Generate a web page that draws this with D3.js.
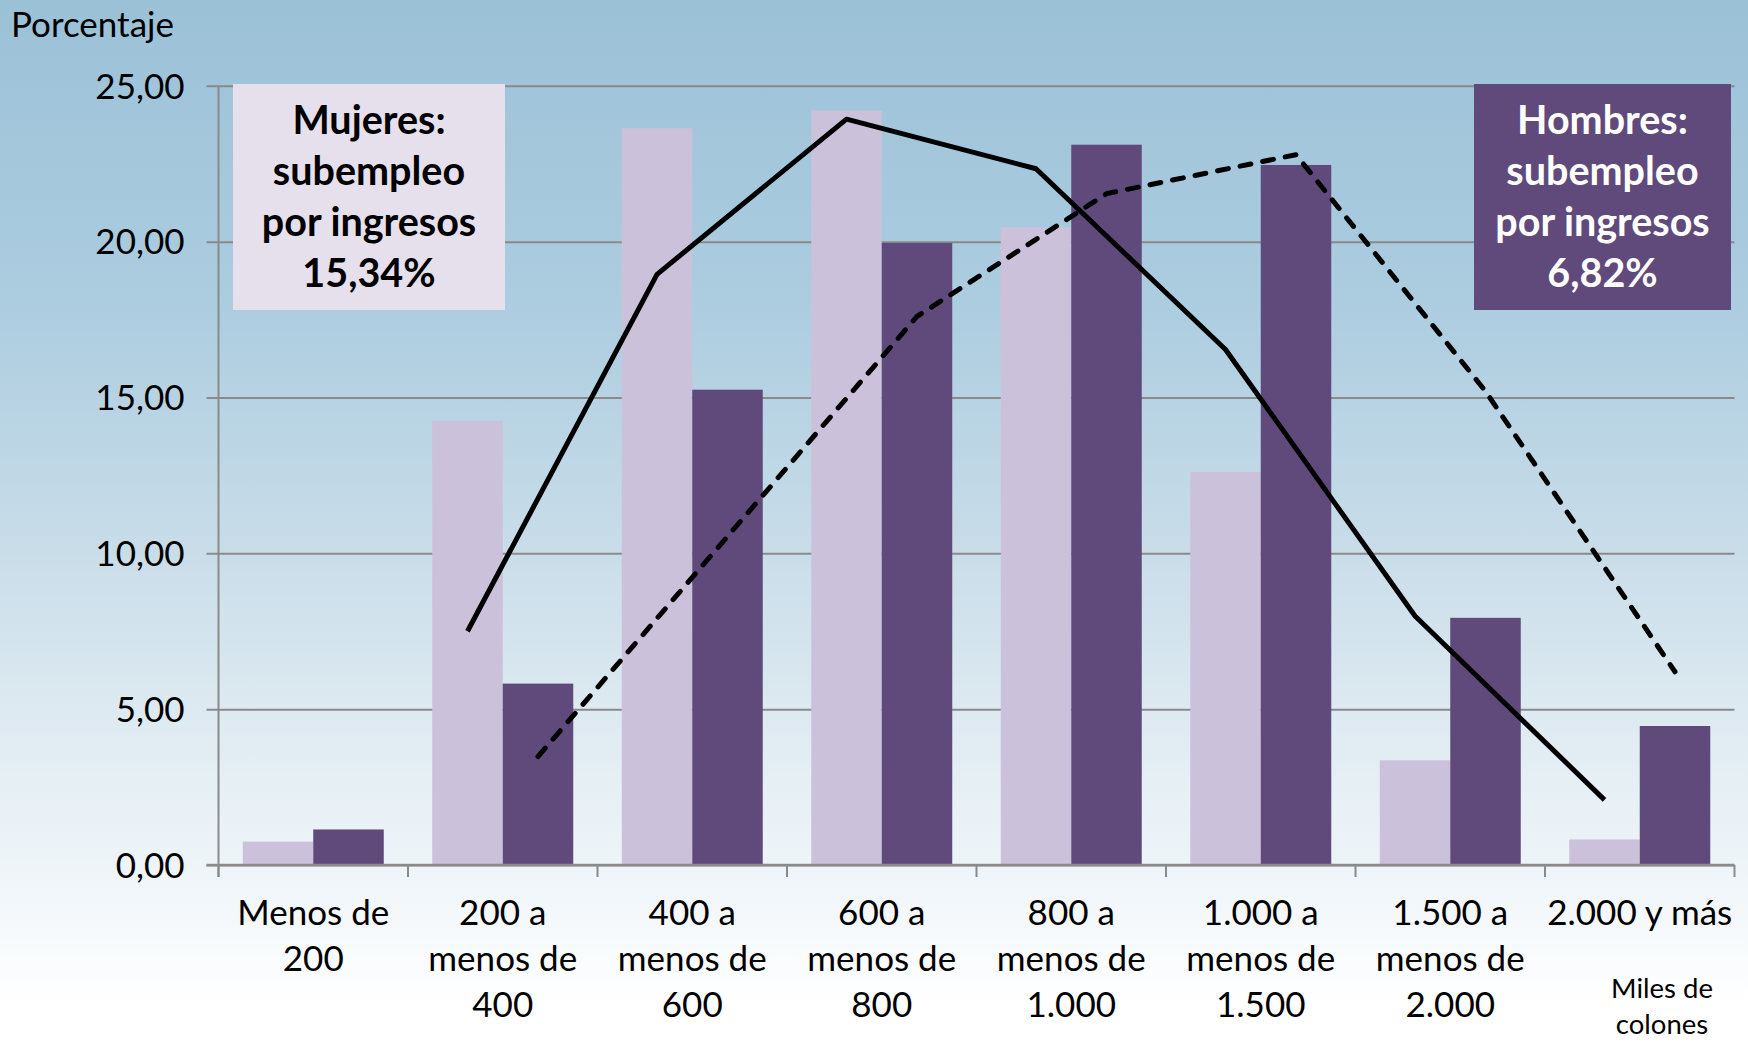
<!DOCTYPE html>
<html>
<head>
<meta charset="utf-8">
<script src="https://cdn.jsdelivr.net/npm/d3@7"></script>
<style>
  html, body { margin: 0; padding: 0; background: #fff; }
  svg { display: block; }
  text { font-family: Lato, "Noto Sans", sans-serif; }
</style>
</head>
<body>
<svg id="chart" width="1748" height="1044"></svg>
<script>
// Categorías de ingreso (miles de colones)
const categories = [
  ["Menos de", "200"],
  ["200 a", "menos de", "400"],
  ["400 a", "menos de", "600"],
  ["600 a", "menos de", "800"],
  ["800 a", "menos de", "1.000"],
  ["1.000 a", "menos de", "1.500"],
  ["1.500 a", "menos de", "2.000"],
  ["2.000 y más"]
];

// Porcentaje de subempleados por ingresos, por sexo
const mujeres = [0.75, 14.25, 23.64, 24.21, 20.46, 12.61, 3.36, 0.82];
const hombres = [1.14, 5.82, 15.25, 19.96, 23.11, 22.46, 7.93, 4.46];

// Medias móviles (2 períodos), desde la segunda categoría
const tendenciaMujeres = [7.50, 18.95, 23.93, 22.34, 16.54, 7.99, 2.09];
const tendenciaHombres = [3.48, 10.54, 17.60, 21.54, 22.79, 15.20, 6.20];

const yTicks = [0, 5, 10, 15, 20, 25];
const yTickLabels = ["0,00", "5,00", "10,00", "15,00", "20,00", "25,00"];

const tasaMujeres = ["Mujeres:", "subempleo", "por ingresos", "15,34%"];
const tasaHombres = ["Hombres:", "subempleo", "por ingresos", "6,82%"];

const W = 1748, H = 1044;
const plot = { left: 218.5, right: 1734.5, top: 85.8, bottom: 865 };

const svg = d3.select("#chart");

// Fondo degradado
const defs = svg.append("defs");
const grad = defs.append("linearGradient")
  .attr("id", "bg").attr("x1", 0).attr("y1", 0).attr("x2", 0).attr("y2", 1);
[[0, "#9bc1d7"], [0.3, "#adcde0"], [0.53, "#c9dde9"], [0.72, "#e2edf3"],
 [0.84, "#eff5f9"], [0.96, "#ffffff"], [1, "#ffffff"]]
  .forEach(([o, c]) => grad.append("stop").attr("offset", o).attr("stop-color", c));
svg.append("rect").attr("width", W).attr("height", H).attr("fill", "url(#bg)");

const idx = d3.range(categories.length);
const x0 = d3.scaleBand().domain(idx).range([plot.left, plot.right]).padding(0);
const x1 = d3.scaleBand().domain(["M", "H"]).range([0, x0.bandwidth()])
  .paddingInner(0).paddingOuter(0.344);
const y = d3.scaleLinear().domain([0, 25]).range([plot.bottom, plot.top]);

const gridColor = "#8a8a8a";

// Líneas de cuadrícula horizontales
const yAxis = d3.axisLeft(y).tickValues(yTicks)
  .tickSize(-(plot.right - plot.left))
  .tickFormat((d, i) => yTickLabels[i]);
const gy = svg.append("g").attr("transform", `translate(${plot.left},0)`).call(yAxis);
gy.select(".domain").remove();
gy.selectAll(".tick line").attr("stroke", gridColor).attr("stroke-width", 2)
  .attr("x1", -12);
gy.selectAll(".tick text").attr("x", -34).attr("dy", "0.35em")
  .attr("font-size", 35).attr("fill", "#000");

// Barras
const groups = svg.append("g").selectAll("g").data(idx).join("g")
  .attr("transform", i => `translate(${x0(i)},0)`);
groups.append("rect")
  .attr("x", x1("M")).attr("width", x1.bandwidth())
  .attr("y", i => y(mujeres[i])).attr("height", i => y(0) - y(mujeres[i]))
  .attr("fill", "#ccc1da");
groups.append("rect")
  .attr("x", x1("H")).attr("width", x1.bandwidth())
  .attr("y", i => y(hombres[i])).attr("height", i => y(0) - y(hombres[i]))
  .attr("fill", "#604a7b");

// Ejes
svg.append("line").attr("x1", plot.left).attr("x2", plot.left)
  .attr("y1", plot.top).attr("y2", plot.bottom + 12)
  .attr("stroke", gridColor).attr("stroke-width", 2);
svg.append("line").attr("x1", plot.left - 12).attr("x2", plot.right)
  .attr("y1", plot.bottom).attr("y2", plot.bottom)
  .attr("stroke", gridColor).attr("stroke-width", 2.5);
const bounds = d3.range(categories.length + 1).map(i => plot.left + i * x0.step());
svg.append("g").selectAll("line").data(bounds).join("line")
  .attr("x1", d => d).attr("x2", d => d)
  .attr("y1", plot.bottom).attr("y2", plot.bottom + 12)
  .attr("stroke", gridColor).attr("stroke-width", 2);

// Etiquetas de categorías
const lab = svg.append("g").selectAll("text").data(idx).join("text")
  .attr("text-anchor", "middle").attr("font-size", 35).attr("fill", "#000")
  .attr("x", i => x0(i) + x0.bandwidth() / 2);
lab.selectAll("tspan").data(i => categories[i]).join("tspan")
  .attr("x", function () { return d3.select(this.parentNode).attr("x"); })
  .attr("y", (d, j) => 925 + j * 46)
  .text(d => d);

svg.append("text").attr("x", 1662).attr("text-anchor", "middle")
  .attr("font-size", 27.5).attr("fill", "#000")
  .selectAll("tspan").data(["Miles de", "colones"]).join("tspan")
  .attr("x", 1662).attr("y", (d, j) => 998 + j * 36).text(d => d);

svg.append("text").attr("x", 11).attr("y", 37).attr("font-size", 35)
  .attr("fill", "#000").text("Porcentaje");

// Líneas de tendencia
const lineGen = d3.line().x(d => d[0]).y(d => y(d[1]));
const ptsM = tendenciaMujeres.map((v, k) => [x0(k + 1) + x1("M") + x1.bandwidth() / 2, v]);
const ptsH = tendenciaHombres.map((v, k) => [x0(k + 1) + x1("H") + x1.bandwidth() / 2, v]);
svg.append("path").attr("d", lineGen(ptsM)).attr("fill", "none")
  .attr("stroke", "#000").attr("stroke-width", 5).attr("stroke-linejoin", "round");
svg.append("path").attr("d", lineGen(ptsH)).attr("fill", "none")
  .attr("stroke", "#000").attr("stroke-width", 5)
  .attr("stroke-dasharray", "11,12").attr("stroke-linecap", "round")
  .attr("stroke-linejoin", "round");

// Recuadros con la tasa de subempleo por sexo
function box(x, yTop, w, h, fill, color, lines) {
  svg.append("rect").attr("x", x).attr("y", yTop).attr("width", w).attr("height", h)
    .attr("fill", fill);
  svg.append("text").attr("text-anchor", "middle").attr("font-weight", "bold")
    .attr("font-size", 39.5).attr("fill", color)
    .selectAll("tspan").data(lines).join("tspan")
    .attr("x", x + w / 2).attr("y", (d, j) => 134 + j * 51).text(d => d);
}
box(233, 84, 272, 226, "#e5e0ec", "#000", tasaMujeres);
box(1474, 84, 257, 226, "#604a7b", "#fff", tasaHombres);
</script>
</body>
</html>
